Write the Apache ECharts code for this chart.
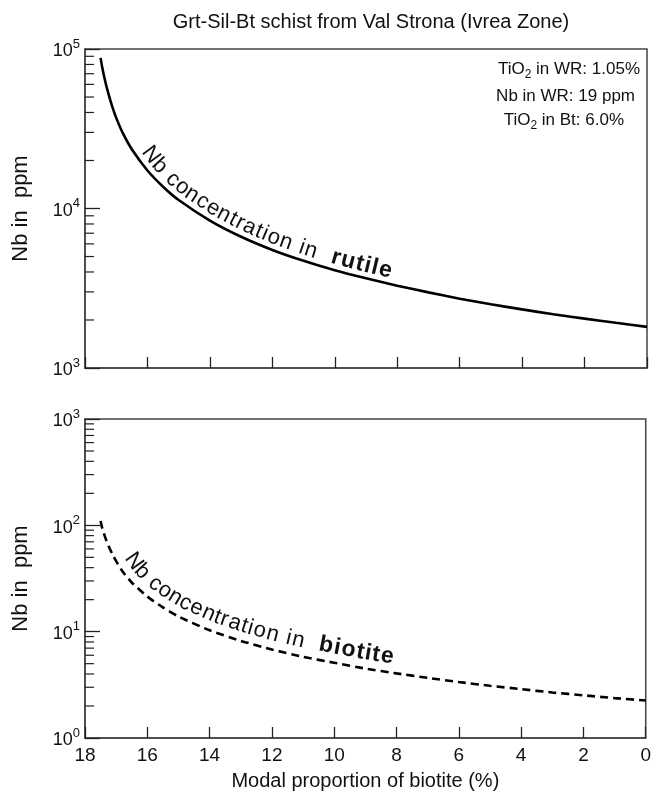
<!DOCTYPE html>
<html>
<head>
<meta charset="utf-8">
<script src="https://cdn.jsdelivr.net/npm/echarts@6/dist/echarts.min.js"></script>
<style>
  html, body { margin: 0; padding: 0; background: #fff; }
  #charts { width: 654px; height: 795px; }
</style>
</head>
<body>
<div id="charts"></div>
<script>
// modal proportion of biotite (%)
var biotitePct = [17.5, 17.45, 17.4, 17.3, 17.2, 17.1, 17.0, 16.8, 16.5, 16.0, 15.5, 15, 14, 13, 12, 11, 10, 9, 8, 7, 6, 5, 4, 3, 2, 1, 0];
// Nb in rutile (ppm)
var nbRutile = [88000, 77000, 69000, 57000, 48500, 42000, 37000, 30000, 23500, 17300, 13700, 11300, 8400, 6650, 5500, 4700, 4100, 3650, 3280, 2980, 2720, 2510, 2330, 2170, 2040, 1920, 1810];
// Nb in biotite (ppm)
var nbBiotite = [110, 95, 85, 70, 60, 52, 46, 37, 29, 21.4, 16.9, 13.9, 10.3, 8.2, 6.8, 5.8, 5.1, 4.5, 4.05, 3.68, 3.36, 3.1, 2.88, 2.68, 2.52, 2.37, 2.25];

var minorTop = [2000, 3000, 4000, 5000, 6000, 7000, 8000, 9000, 20000, 30000, 40000, 50000, 60000, 70000, 80000, 90000];
var minorBottom = [2, 3, 4, 5, 6, 7, 8, 9, 20, 30, 40, 50, 60, 70, 80, 90, 200, 300, 400, 500, 600, 700, 800, 900];

var FONT = '"Liberation Sans", Arial, Helvetica, sans-serif';
var AX = '#444';

var chart = echarts.init(document.getElementById('charts'));

function supLabel(v) {
    var e = Math.round(Math.log(v) / Math.LN10);
    return '{b|10}{s|' + e + '}';
}
var yLabel = {
    formatter: supLabel,
    margin: 5,
    rich: {
        b: { fontSize: 18, fontFamily: FONT, color: '#111', verticalAlign: 'bottom', lineHeight: 20 },
        s: { fontSize: 13, fontFamily: FONT, color: '#111', verticalAlign: 'top', padding: [0, 0, 10, 0] }
    }
};

function xAxisCfg(grid, showLabel) {
    return {
        type: 'value', gridIndex: grid, min: 0, max: 18, interval: 2, inverse: true,
        axisLine: { show: true, onZero: false, lineStyle: { color: AX, width: 1.5 } },
        axisTick: { inside: true, length: 11, lineStyle: { color: '#222', width: 1.3 } },
        splitLine: { show: false },
        axisLabel: { show: showLabel, fontSize: 19, fontFamily: FONT, color: '#111', margin: 8 },
        name: showLabel ? 'Modal proportion of biotite (%)' : '',
        nameLocation: 'middle', nameGap: 33,
        nameTextStyle: { fontSize: 20, fontFamily: FONT, color: '#111' }
    };
}
function yAxisCfg(grid, lo, hi) {
    return {
        type: 'log', logBase: 10, gridIndex: grid, min: lo, max: hi,
        axisLine: { show: true, onZero: false, lineStyle: { color: AX, width: 1.5 } },
        axisTick: { inside: true, length: 15, lineStyle: { color: '#222', width: 1.3 } },
        splitLine: { show: false },
        axisLabel: yLabel,
        name: 'Nb in  ppm', nameLocation: 'middle', nameGap: 53, nameRotate: 90,
        nameTextStyle: { fontSize: 22, fontFamily: FONT, color: '#111' }
    };
}

function minorSeries(idx, vals) {
    return {
        type: 'custom', xAxisIndex: idx, yAxisIndex: idx, silent: true,
        data: vals.map(function (v) { return [18, v]; }),
        renderItem: function (params, api) {
            var p = api.coord([api.value(0), api.value(1)]);
            return {
                type: 'line',
                shape: { x1: p[0], y1: p[1], x2: p[0] + 9, y2: p[1] },
                style: { stroke: '#222', lineWidth: 1.2 }
            };
        }
    };
}

var option = {
    backgroundColor: '#fff',
    animation: false,
    title: {
        text: 'Grt-Sil-Bt schist from Val Strona (Ivrea Zone)',
        left: 366, top: 7, textAlign: 'center',
        textStyle: { fontSize: 20, fontWeight: 'normal', fontFamily: FONT, color: '#111' }
    },
    grid: [
        { left: 85, right: 7, top: 49, height: 319, show: true, borderColor: AX, borderWidth: 1.5 },
        { left: 85, right: 7, top: 419, height: 319, show: true, borderColor: AX, borderWidth: 1.5 }
    ],
    xAxis: [xAxisCfg(0, false), xAxisCfg(1, true)],
    yAxis: [yAxisCfg(0, 1000, 100000), yAxisCfg(1, 1, 1000)],
    series: [
        {
            type: 'line', xAxisIndex: 0, yAxisIndex: 0, showSymbol: false, smooth: 0.2,
            data: biotitePct.map(function (x, i) { return [x, nbRutile[i]]; }),
            lineStyle: { color: '#000', width: 2.6 }
        },
        {
            type: 'line', xAxisIndex: 1, yAxisIndex: 1, showSymbol: false, smooth: 0.2,
            data: biotitePct.map(function (x, i) { return [x, nbBiotite[i]]; }),
            lineStyle: { color: '#000', width: 2.6, type: [8, 5] }
        },
        minorSeries(0, minorTop),
        minorSeries(1, minorBottom)
    ],
    graphic: []
};
chart.setOption(option);

// text that follows a curve, one glyph at a time
var measureCtx = document.createElement('canvas').getContext('2d');
function textAlongCurve(gridIndex, ys, startPx, pieces, offset, spacing) {
    var pts = biotitePct.map(function (x, i) {
        return chart.convertToPixel({ gridIndex: gridIndex }, [x, ys[i]]);
    });
    var cum = [0];
    for (var i = 1; i < pts.length; i++) {
        cum.push(cum[i - 1] + Math.hypot(pts[i][0] - pts[i - 1][0], pts[i][1] - pts[i - 1][1]));
    }
    function at(s) {
        for (var k = 1; k < pts.length; k++) {
            if (cum[k] >= s || k == pts.length - 1) {
                var f = (s - cum[k - 1]) / (cum[k] - cum[k - 1]);
                return [pts[k - 1][0] + f * (pts[k][0] - pts[k - 1][0]), pts[k - 1][1] + f * (pts[k][1] - pts[k - 1][1])];
            }
        }
    }
    // arc position where the text starts
    var s = 0;
    while (at(s)[0] < startPx) s += 0.5;
    var out = [];
    pieces.forEach(function (pc) {
        var font = (pc.bold ? 'bold ' : '') + pc.size + 'px ' + FONT;
        measureCtx.font = font;
        for (var c = 0; c < pc.text.length; c++) {
            var ch = pc.text[c];
            var w = measureCtx.measureText(ch).width + spacing;
            var mid = s + w / 2;
            var a = at(mid - 8), b = at(mid + 8), p = at(mid);
            var dx = b[0] - a[0], dy = b[1] - a[1], len = Math.hypot(dx, dy);
            dx /= len; dy /= len;
            var nx = dy, ny = -dx;
            if (ch != ' ') {
                out.push({
                    type: 'text', silent: true,
                    x: p[0] + nx * offset, y: p[1] + ny * offset,
                    rotation: -Math.atan2(dy, dx),
                    style: { text: ch, font: font, fill: '#111', align: 'center', verticalAlign: 'bottom' }
                });
            }
            s += w;
        }
    });
    return out;
}

var labels = []
    .concat(textAlongCurve(0, nbRutile, 136, [
        { text: 'Nb concentration in  ', size: 22 },
        { text: 'rutile', size: 23, bold: true }
    ], 1, 1.2))
    .concat(textAlongCurve(1, nbBiotite, 117, [
        { text: 'Nb concentration in  ', size: 22 },
        { text: 'biotite', size: 23, bold: true }
    ], 4, 1.2));

// whole-rock info, upper right
var subRich = { s: { fontSize: 12, padding: [10, 0, 0, 0], fontFamily: FONT } };
labels.push(
    { type: 'text', right: 14, top: 61, style: { text: 'TiO{s|2} in WR: 1.05%', font: '17px ' + FONT, fill: '#111', rich: subRich } },
    { type: 'text', right: 19, top: 88, style: { text: 'Nb in WR: 19 ppm', font: '17px ' + FONT, fill: '#111' } },
    { type: 'text', right: 30, top: 112, style: { text: 'TiO{s|2} in Bt: 6.0%', font: '17px ' + FONT, fill: '#111', rich: subRich } }
);
chart.setOption({ graphic: labels });
</script>
</body>
</html>
